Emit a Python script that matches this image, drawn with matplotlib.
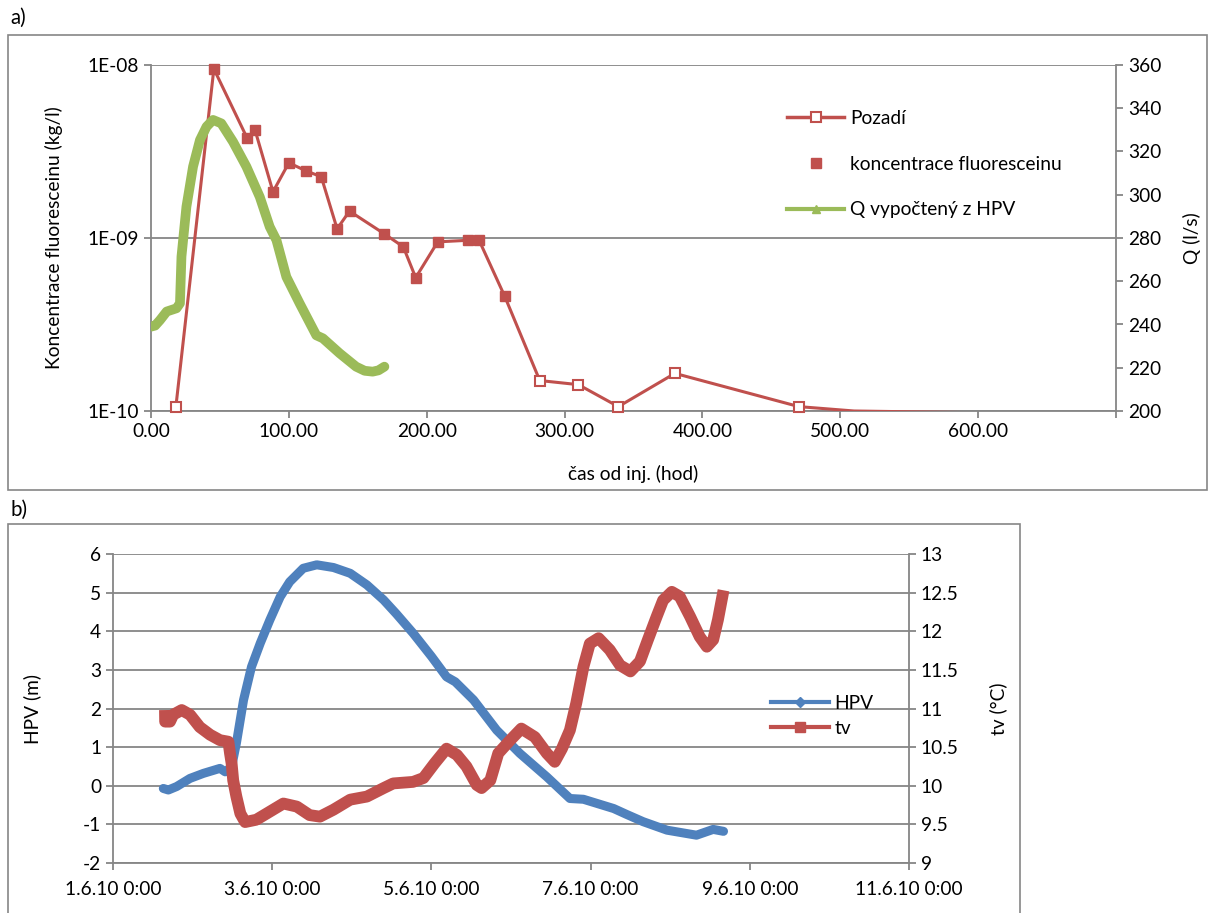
import matplotlib
matplotlib.use("Agg")
import matplotlib.pyplot as plt
from matplotlib.lines import Line2D
from matplotlib.patches import Rectangle
from matplotlib.ticker import FixedLocator, NullLocator

plt.rcParams['font.family'] = ['Lato', 'DejaVu Sans']
plt.rcParams['axes.unicode_minus'] = False

# ---------------- panel a data ----------------
pozadi_t = [18, 45.6, 69.6, 75.5, 88.5, 100, 112.6, 123.5, 135, 144, 169, 183, 192, 208, 230, 238,
            256.6, 282, 310, 339, 380, 470, 510, 588]
pozadi_c = [1.05e-10, 9.5e-9, 3.8e-9, 4.2e-9, 1.85e-9, 2.72e-9, 2.44e-9, 2.26e-9, 1.13e-9, 1.43e-9,
            1.06e-9, 8.9e-10, 5.9e-10, 9.5e-10, 9.7e-10, 9.7e-10, 4.6e-10, 1.5e-10, 1.42e-10,
            1.06e-10, 1.65e-10, 1.06e-10, 1.0e-10, 9.8e-11]
pozadi_marker_t = [18, 282, 310, 339, 380, 470]
pozadi_marker_c = [1.05e-10, 1.5e-10, 1.42e-10, 1.06e-10, 1.65e-10, 1.06e-10]
fluor_t = [45.6, 69.6, 75.5, 88.5, 100, 112.6, 123.5, 135, 144, 169, 183, 192, 208, 230, 238, 256.6]
fluor_c = [9.5e-9, 3.8e-9, 4.2e-9, 1.85e-9, 2.72e-9, 2.44e-9, 2.26e-9, 1.13e-9, 1.43e-9, 1.06e-9,
           8.9e-10, 5.9e-10, 9.5e-10, 9.7e-10, 9.7e-10, 4.6e-10]
q_t = [0, 3, 6.5, 11.4, 18.5, 21, 22.1, 25.7, 30.5, 35.5, 40.3, 45, 51, 59.5, 69.2, 78.9, 86.1, 91,
       98.2, 107.8, 119.9, 124.7, 136.8, 148.8, 155, 160.8, 165, 169.3]
q_v = [239, 239.5, 242, 246, 247.5, 249.8, 271.4, 294.5, 313, 325.3, 331.5, 334.6, 333, 324.5, 313,
       299, 285.2, 279, 262, 249.8, 235, 233.6, 226.7, 220.5, 218.6, 218.2, 218.8, 220.5]
a_xticks = [0, 100, 200, 300, 400, 500, 600]
a_xlabels = ["0.00", "100.00", "200.00", "300.00", "400.00", "500.00", "600.00"]
a_yticks = [1e-10, 1e-9, 1e-8]
a_ylabels = ["1E-10", "1E-09", "1E-08"]
a_qticks = [200, 220, 240, 260, 280, 300, 320, 340, 360]

# ---------------- panel b data ----------------
hpv_d = [0.632, 0.695, 0.8, 0.967, 1.135, 1.344, 1.41, 1.49, 1.55, 1.64, 1.74, 1.85, 1.97, 2.1, 2.22,
         2.39, 2.56, 2.77, 2.98, 3.19, 3.4, 3.56, 3.77, 4.0, 4.19, 4.3, 4.53, 4.82, 5.11, 5.45, 5.74,
         5.91, 6.1, 6.29, 6.45, 6.66, 6.96, 7.33, 7.54, 7.67]
hpv_v = [-0.07, -0.11, -0.02, 0.19, 0.32, 0.45, 0.36, 0.49, 1.1, 2.22, 3.08, 3.69, 4.29, 4.89, 5.28,
         5.63, 5.72, 5.65, 5.5, 5.2, 4.81, 4.45, 3.95, 3.35, 2.82, 2.69, 2.22, 1.44, 0.84, 0.23, -0.33,
         -0.35, -0.47, -0.59, -0.74, -0.93, -1.15, -1.28, -1.13, -1.18]
tv_d = [0.653, 0.655, 0.716, 0.757, 0.863, 0.967, 1.09, 1.22, 1.344, 1.45, 1.47, 1.49, 1.51, 1.55, 1.6,
        1.66, 1.8, 1.93, 2.14, 2.31, 2.47, 2.6, 2.77, 2.98, 3.19, 3.4, 3.52, 3.77, 3.9, 4.04, 4.19, 4.32,
        4.44, 4.57, 4.63, 4.74, 4.84, 4.99, 5.13, 5.3, 5.45, 5.55, 5.64, 5.74, 5.82, 5.91, 5.99, 6.1,
        6.24, 6.37, 6.5, 6.62, 6.72, 6.83, 6.91, 7.02, 7.12, 7.25, 7.37, 7.46, 7.54, 7.6, 7.67]
tv_v = [10.98, 10.83, 10.83, 10.92, 10.98, 10.92, 10.76, 10.66, 10.59, 10.57, 10.42, 10.29, 10.07,
        9.86, 9.64, 9.53, 9.56, 9.64, 9.77, 9.73, 9.62, 9.6, 9.69, 9.82, 9.86, 9.97, 10.03, 10.05, 10.1,
        10.29, 10.48, 10.4, 10.25, 10.01, 9.97, 10.07, 10.42, 10.59, 10.74, 10.63, 10.42, 10.31, 10.48,
        10.72, 11.07, 11.54, 11.84, 11.91, 11.76, 11.56, 11.48, 11.61, 11.89, 12.19, 12.4, 12.51,
        12.45, 12.19, 11.93, 11.8, 11.89, 12.15, 12.53]
b_xticks = [0, 2, 4, 6, 8, 10]
b_xlabels = ["1.6.10 0:00", "3.6.10 0:00", "5.6.10 0:00", "7.6.10 0:00", "9.6.10 0:00", "11.6.10 0:00"]
b_yticks = [-2, -1, 0, 1, 2, 3, 4, 5, 6]
b_y2ticks = [9, 9.5, 10, 10.5, 11, 11.5, 12, 12.5, 13]

RED = "#C0504D"
GREEN = "#9BBB59"
BLUE = "#4F81BD"
GRAY = "#868686"
FS = 13.8

W, H = 1211, 913
fig = plt.figure(figsize=(W / 100, H / 100), dpi=100)

def fx(px):
    return px / W

def fy(py):
    return 1 - py / H

# border boxes
fig.patches.append(Rectangle((fx(8), fy(490)), fx(1207) - fx(8), fy(35) - fy(490), transform=fig.transFigure,
                             fill=False, edgecolor=GRAY, linewidth=1.2))
fig.patches.append(Rectangle((fx(8), fy(940)), fx(1020) - fx(8), fy(524) - fy(940), transform=fig.transFigure,
                             fill=False, edgecolor=GRAY, linewidth=1.2))
fig.text(fx(10), fy(18), "a)", fontsize=FS + 1, va="center", ha="left")
fig.text(fx(10), fy(510), "b)", fontsize=FS + 1, va="center", ha="left")

def style_axes(ax):
    ax.spines["top"].set_visible(False)
    for s in ["left", "right", "bottom"]:
        ax.spines[s].set_color(GRAY)
        ax.spines[s].set_linewidth(1.3)
    ax.tick_params(axis="both", colors=GRAY, labelcolor="black", labelsize=FS, length=5, width=1.3,
                   direction="out")

# ---------------- panel a ----------------
axa = fig.add_axes([fx(151), fy(411), fx(1116) - fx(151), fy(65) - fy(411)])
axa.set_yscale("log")
axa.set_xlim(0, 700)
axa.set_ylim(1e-10, 1e-8)
axa.yaxis.set_major_locator(FixedLocator(a_yticks))
axa.yaxis.set_minor_locator(NullLocator())
axa.set_yticks(a_yticks)
axa.set_yticklabels(a_ylabels)
axa.set_xticks(a_xticks + [700])
axa.set_xticklabels(a_xlabels + [""])
axa.grid(axis="y", color=GRAY, linewidth=1.3)
axa.set_axisbelow(True)
style_axes(axa)
axa.spines["right"].set_visible(False)
axa.set_ylabel("Koncentrace fluoresceinu (kg/l)", fontsize=FS, labelpad=18)
axa.set_xlabel("čas od inj. (hod)", fontsize=FS, labelpad=18)

axa.plot(pozadi_t, pozadi_c, color=RED, linewidth=2.2, zorder=3)
axa.plot(pozadi_marker_t, pozadi_marker_c, linestyle="none", marker="s", markersize=7,
         markerfacecolor="white", markeredgecolor=RED, markeredgewidth=1.5, zorder=4, clip_on=False)
axa.plot(fluor_t, fluor_c, linestyle="none", marker="s", markersize=7.5, color=RED, zorder=5, clip_on=False)

axq = axa.twinx()
axq.set_ylim(200, 360)
axq.set_yticks(a_qticks)
style_axes(axq)
axq.spines["left"].set_visible(False)
axq.spines["bottom"].set_visible(False)
axq.set_ylabel("Q (l/s)", fontsize=FS, labelpad=16)
axq.plot(q_t, q_v, color=GREEN, linewidth=7, solid_capstyle="round", solid_joinstyle="round", zorder=2)

hA = [Line2D([], [], color=RED, linewidth=2.5, marker="s", markersize=7, markerfacecolor="white",
             markeredgecolor=RED, markeredgewidth=1.5),
      Line2D([], [], color=RED, linestyle="none", marker="s", markersize=7),
      Line2D([], [], color=GREEN, linewidth=3, marker="^", markersize=6)]
axq.legend(hA, ["Pozadí", "koncentrace fluoresceinu", "Q vypočtený z HPV"], loc="upper left",
           bbox_to_anchor=(0.641, 0.92), frameon=False, fontsize=FS, handlelength=3.0,
           labelspacing=1.5, handletextpad=0.3)

# ---------------- panel b ----------------
axb = fig.add_axes([fx(113), fy(863), fx(909) - fx(113), fy(554) - fy(863)])
axb.set_xlim(0, 10)
axb.set_ylim(-2, 6)
axb.set_xticks(b_xticks)
axb.set_xticklabels(b_xlabels)
axb.set_yticks(b_yticks)
axb.grid(axis="y", color=GRAY, linewidth=1.3)
axb.set_axisbelow(True)
style_axes(axb)
axb.spines["right"].set_visible(False)
axb.tick_params(axis="x", pad=8)
axb.set_ylabel("HPV (m)", fontsize=FS, labelpad=30)
axb.plot(hpv_d, hpv_v, color=BLUE, linewidth=6.5, solid_capstyle="round", solid_joinstyle="round", zorder=3)

axt = axb.twinx()
axt.set_ylim(9, 13)
axt.set_yticks(b_y2ticks)
axt.set_yticklabels([f"{v:g}" for v in b_y2ticks])
style_axes(axt)
axt.spines["left"].set_visible(False)
axt.spines["bottom"].set_visible(False)
axt.set_ylabel("tv (°C)", fontsize=FS, labelpad=22)
axt.plot(tv_d, tv_v, color=RED, linewidth=8.5, solid_capstyle="butt", solid_joinstyle="round", zorder=3)

hB = [Line2D([], [], color=BLUE, linewidth=3, marker="D", markersize=5),
      Line2D([], [], color=RED, linewidth=3, marker="s", markersize=7)]
axt.legend(hB, ["HPV", "tv"], loc="upper left", bbox_to_anchor=(0.805, 0.6), frameon=False,
           fontsize=FS, handlelength=3.0, labelspacing=0.4, handletextpad=0.3)

fig.savefig("out.png", dpi=100)
